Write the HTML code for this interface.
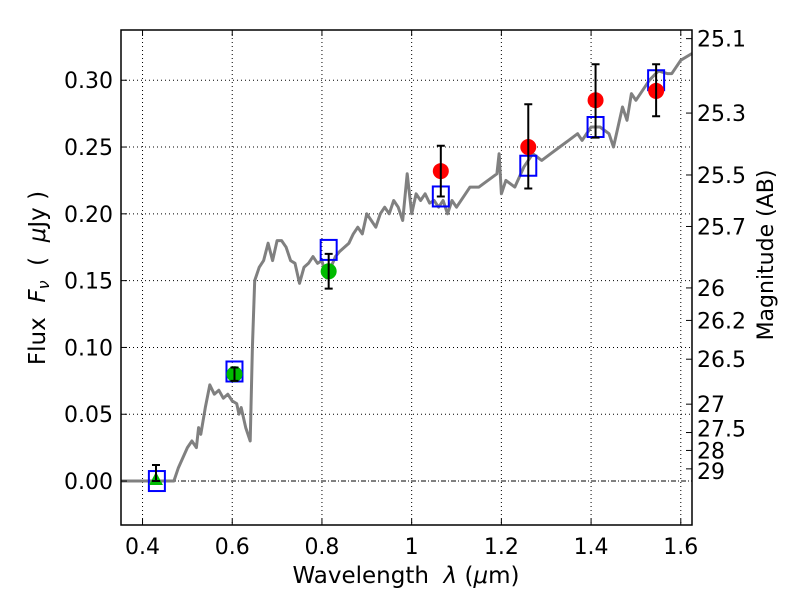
<!DOCTYPE html>
<html><head><meta charset="utf-8"><style>
body{margin:0;background:#fff;}
svg{display:block;font-family:"DejaVu Sans","Liberation Sans",sans-serif;}
.pre{white-space:pre;}
</style></head><body>
<svg id="chart" width="800" height="600" viewBox="0 0 800 600">
<rect x="0" y="0" width="800" height="600" fill="#fff"/>
<g id="grid"></g>
<g id="spec"></g>
<g id="pts"></g>
<rect x="121" y="30" width="571" height="495" fill="none" stroke="#000" stroke-width="1.5"/>
<g id="axes"></g>
<text class="pre" x="406" y="583" font-size="23" text-anchor="middle">Wavelength  <tspan font-style="italic">λ</tspan> (<tspan font-style="italic">μ</tspan>m)</text>
<text class="pre" transform="translate(45,278) rotate(-90)" font-size="23" text-anchor="middle">Flux  <tspan font-style="italic">F<tspan font-size="16" dy="4">ν</tspan></tspan><tspan dy="-4">  (  </tspan><tspan font-style="italic">μ</tspan>Jy )</text>
<text transform="translate(773,255) rotate(-90)" font-size="22" text-anchor="middle">Magnitude (AB)</text>
</svg>
<script>
const specWave=[0.352,0.47,0.48,0.5,0.51,0.52,0.525,0.53,0.54,0.55,0.56,0.57,0.58,0.59,0.6,0.61,0.615,0.62,0.63,0.64,0.645,0.65,0.66,0.67,0.68,0.69,0.7,0.71,0.72,0.73,0.74,0.75,0.76,0.77,0.78,0.79,0.8,0.81,0.82,0.83,0.84,0.85,0.86,0.87,0.88,0.89,0.9,0.91,0.92,0.93,0.94,0.95,0.96,0.97,0.98,0.99,1.0,1.01,1.02,1.03,1.04,1.05,1.06,1.07,1.08,1.09,1.1,1.12,1.13,1.15,1.17,1.19,1.195,1.2,1.21,1.23,1.25,1.27,1.29,1.31,1.33,1.35,1.37,1.38,1.4,1.42,1.44,1.45,1.47,1.48,1.49,1.5,1.52,1.53,1.55,1.57,1.58,1.6,1.625];
const specFlux=[0,0,0.01,0.025,0.03,0.025,0.04,0.035,0.055,0.072,0.065,0.068,0.062,0.065,0.06,0.058,0.05,0.055,0.04,0.03,0.1,0.15,0.16,0.165,0.178,0.165,0.18,0.18,0.175,0.165,0.163,0.148,0.16,0.163,0.168,0.163,0.165,0.152,0.16,0.168,0.172,0.175,0.178,0.185,0.19,0.185,0.2,0.195,0.19,0.2,0.205,0.2,0.21,0.205,0.195,0.23,0.2,0.215,0.21,0.215,0.208,0.21,0.205,0.21,0.2,0.21,0.205,0.215,0.22,0.22,0.225,0.23,0.245,0.215,0.225,0.22,0.235,0.245,0.24,0.245,0.25,0.255,0.26,0.255,0.265,0.265,0.26,0.25,0.28,0.27,0.29,0.285,0.295,0.3,0.307,0.305,0.305,0.315,0.32];
const obsWave=[0.43,0.605,0.815,1.065,1.26,1.41,1.545];
const obsFlux=[0.0,0.080,0.157,0.232,0.250,0.285,0.292];
const obsErrLo=[0.0,0.075,0.144,0.213,0.219,0.257,0.273];
const obsErrHi=[0.012,0.085,0.170,0.251,0.282,0.312,0.312];
const obsKind=['tri','green','green','red','red','red','red'];
const modelWave=[0.432,0.605,0.815,1.065,1.26,1.41,1.545];
const modelFlux=[0.0,0.082,0.173,0.213,0.236,0.265,0.300];
const xTicks=[0.4,0.6,0.8,1.0,1.2,1.4,1.6];
const xTickLabels=['0.4','0.6','0.8','1','1.2','1.4','1.6'];
const yTicks=[0,0.05,0.1,0.15,0.2,0.25,0.3];
const yTickLabels=['0.00','0.05','0.10','0.15','0.20','0.25','0.30'];
const magTicks=[25.1,25.3,25.5,25.7,26,26.2,26.5,27,27.5,28,29];
const magLabels=['25.1','25.3','25.5','25.7','26','26.2','26.5','27','27.5','28','29'];
const magLabelDy=[0,0,0,0,0,0,0,0,-4,0,2];

const X0=121,X1=692,Y0=525,Y1=30,xmin=0.352,xmax=1.625,ymin=-0.0329,ymax=0.3376;
const sx=v=>X0+(v-xmin)/(xmax-xmin)*(X1-X0);
const sy=v=>Y0-(v-ymin)/(ymax-ymin)*(Y0-Y1);
const NS='http://www.w3.org/2000/svg';
function mk(tag,attrs,parent){const e=document.createElementNS(NS,tag);for(const k in attrs)e.setAttribute(k,attrs[k]);parent.appendChild(e);return e;}
const grid=document.getElementById('grid'),axes=document.getElementById('axes'),spec=document.getElementById('spec'),pts=document.getElementById('pts');
xTicks.forEach((t,i)=>{const x=sx(t);
 let g=mk('line',{x1:x,x2:x,y1:Y1,y2:Y0,stroke:'#000','stroke-width':1,'stroke-dasharray':'1,3'},grid);
 
 
 mk('line',{x1:x,x2:x,y1:Y0,y2:Y0-6,stroke:'#000'},axes);
 mk('line',{x1:x,x2:x,y1:Y1,y2:Y1+6,stroke:'#000'},axes);
 let l=mk('text',{x:x,y:554,'font-size':22,'text-anchor':'middle'},axes);l.textContent=xTickLabels[i];
 
 
});
yTicks.forEach((t,i)=>{const y=sy(t);
 let g=mk('line',{x1:X0,x2:X1,y1:y,y2:y,stroke:'#000','stroke-width':1,'stroke-dasharray':t===0?'5,2,1,2':'1,3'},grid);
 
 
 mk('line',{x1:X0,x2:X0+6,y1:y,y2:y,stroke:'#000'},axes);
 let l=mk('text',{x:113,y:y+8,'font-size':22,'text-anchor':'end'},axes);l.textContent=yTickLabels[i];
 
 
});
magTicks.forEach((m,i)=>{const y=sy(Math.pow(10,-(m-23.9)/2.5));
 mk('line',{x1:X1,x2:X1-6,y1:y,y2:y,stroke:'#000'},axes);
 let l=mk('text',{x:697,y:y+8+magLabelDy[i],'font-size':22},axes);l.textContent=magLabels[i];
 
 
});
let d=specWave.map((w,i)=>(i?'L':'M')+sx(w).toFixed(1)+','+sy(specFlux[i]).toFixed(1)).join(' ');
let p=mk('path',{d:d,fill:'none',stroke:'#808080','stroke-width':3,'stroke-linejoin':'round'},spec);


modelWave.forEach((w,i)=>{const x=sx(w),y=sy(modelFlux[i]);
 let r=mk('rect',{x:x-8,y:y-10,width:16,height:20,fill:'none',stroke:'#0000ff','stroke-width':2},pts);
 
 
});
obsWave.forEach((w,i)=>{const x=sx(w),y=sy(obsFlux[i]);
 let m;
 if(obsKind[i]==='tri'){m=mk('polygon',{points:`${x},${y-9} ${x-7},${y+4} ${x+7},${y+4}`,fill:'#00bb00'},pts);}
 else{m=mk('circle',{cx:x,cy:y,r:8,fill:obsKind[i]==='red'?'#ff0000':'#00bb00'},pts);}
 
 
 const ylo=sy(obsErrLo[i]),yhi=sy(obsErrHi[i]);
 let e=mk('path',{d:`M${x},${ylo}L${x},${yhi}M${x-4},${ylo}L${x+4},${ylo}M${x-4},${yhi}L${x+4},${yhi}`,stroke:'#000','stroke-width':2,fill:'none'},pts);
 
 
});
</script>
</body></html>
